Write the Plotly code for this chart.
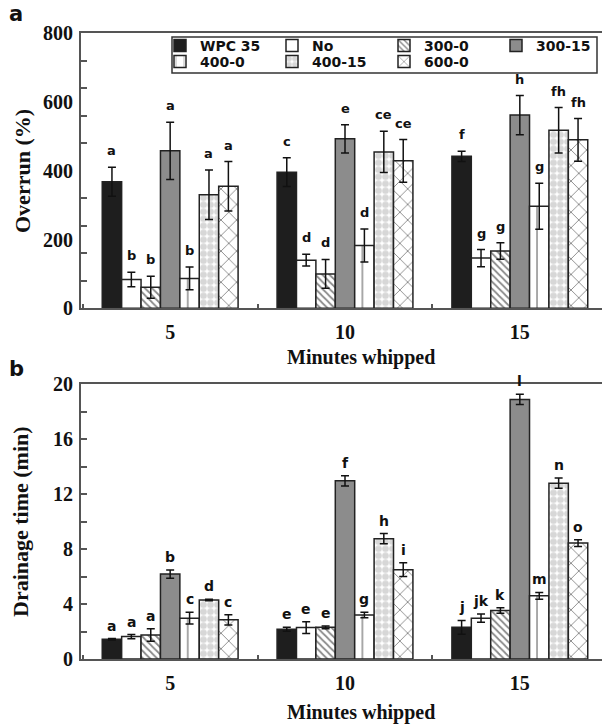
import plotly.graph_objects as go

W, H = 602, 727

# ---------------- data ----------------
minutes = ["5", "10", "15"]
series = ["WPC 35", "No", "300-0", "300-15", "400-0", "400-15", "600-0"]

# Overrun (%)
ovr_wpc35 = [368, 396, 442]
ovr_no = [84, 140, 146]
ovr_300_0 = [61, 100, 167]
ovr_300_15 = [458, 493, 562]
ovr_400_0 = [87, 183, 297]
ovr_400_15 = [330, 455, 518]
ovr_600_0 = [355, 429, 490]

ovr_err_wpc35 = [42, 42, 15]
ovr_err_no = [21, 17, 25]
ovr_err_300_0 = [32, 42, 24]
ovr_err_300_15 = [83, 41, 57]
ovr_err_400_0 = [33, 48, 67]
ovr_err_400_15 = [72, 60, 66]
ovr_err_600_0 = [72, 62, 62]

ovr_let_wpc35 = ["a", "c", "f"]
ovr_let_no = ["b", "d", "g"]
ovr_let_300_0 = ["b", "d", "g"]
ovr_let_300_15 = ["a", "e", "h"]
ovr_let_400_0 = ["b", "d", "g"]
ovr_let_400_15 = ["a", "ce", "fh"]
ovr_let_600_0 = ["a", "ce", "fh"]

# Drainage time (min)
drn_wpc35 = [1.44, 2.17, 2.31]
drn_no = [1.63, 2.29, 2.97]
drn_300_0 = [1.75, 2.31, 3.53]
drn_300_15 = [6.18, 12.97, 18.9]
drn_400_0 = [2.97, 3.21, 4.6]
drn_400_15 = [4.3, 8.76, 12.8]
drn_600_0 = [2.85, 6.5, 8.44]

drn_err_wpc35 = [0.05, 0.15, 0.5]
drn_err_no = [0.15, 0.43, 0.3]
drn_err_300_0 = [0.45, 0.1, 0.2]
drn_err_300_15 = [0.3, 0.37, 0.37]
drn_err_400_0 = [0.43, 0.2, 0.25]
drn_err_400_15 = [0.05, 0.37, 0.37]
drn_err_600_0 = [0.38, 0.5, 0.25]

drn_let_wpc35 = ["a", "e", "j"]
drn_let_no = ["a", "e", "jk"]
drn_let_300_0 = ["a", "e", "k"]
drn_let_300_15 = ["b", "f", "l"]
drn_let_400_0 = ["c", "g", "m"]
drn_let_400_15 = ["d", "h", "n"]
drn_let_600_0 = ["c", "i", "o"]

ovr_vals = [ovr_wpc35, ovr_no, ovr_300_0, ovr_300_15, ovr_400_0, ovr_400_15, ovr_600_0]
ovr_errs = [ovr_err_wpc35, ovr_err_no, ovr_err_300_0, ovr_err_300_15, ovr_err_400_0, ovr_err_400_15, ovr_err_600_0]
ovr_lets = [ovr_let_wpc35, ovr_let_no, ovr_let_300_0, ovr_let_300_15, ovr_let_400_0, ovr_let_400_15, ovr_let_600_0]
drn_vals = [drn_wpc35, drn_no, drn_300_0, drn_300_15, drn_400_0, drn_400_15, drn_600_0]
drn_errs = [drn_err_wpc35, drn_err_no, drn_err_300_0, drn_err_300_15, drn_err_400_0, drn_err_400_15, drn_err_600_0]
drn_lets = [drn_let_wpc35, drn_let_no, drn_let_300_0, drn_let_300_15, drn_let_400_0, drn_let_400_15, drn_let_600_0]

# ---------------- styles ----------------
BARGAP = 0.223
X_RANGE = [-0.51, 2.47]
X_LEFT_PX = 81
unit_px = (W - X_LEFT_PX) / (X_RANGE[1] - X_RANGE[0])
bar_px = unit_px * (1 - BARGAP) / len(series)   # one bar's pixel width

styles = [
    dict(color="#1e1e1e", pattern=None),
    dict(color="white", pattern=None),
    dict(color="white", pattern=dict(shape="\\", fgcolor="#111", bgcolor="white", size=5, solidity=0.35)),
    dict(color="#8c8c8c", pattern=None),
    dict(color="white", pattern=dict(shape="|", fgcolor="#222", bgcolor="white", size=bar_px, solidity=0.08)),
    dict(color="white", pattern=dict(shape=".", fgcolor="#b0b0b0", bgcolor="white", size=7, solidity=0.7)),
    dict(color="white", pattern=dict(shape="x", fgcolor="#111", bgcolor="white", size=11, solidity=0.16)),
]

serif_bold = dict(family="Liberation Serif, Times New Roman, serif", size=20, color="#111", weight="bold")
sans = "DejaVu Sans, Arial, sans-serif"
AX = "#555"

fig = go.Figure()

def add_panel(vals, errs, xa, ya, showleg):
    for i, name in enumerate(series):
        st = styles[i]
        marker = dict(color=st["color"], line=dict(color="#222", width=1.5))
        if st["pattern"]:
            marker["pattern"] = st["pattern"]
        fig.add_trace(go.Bar(
            x=minutes, y=vals[i], name=name, marker=marker,
            error_y=dict(type="data", array=errs[i], color="#111", thickness=1.5, width=4),
            xaxis=xa, yaxis=ya, showlegend=showleg,
            legend="legend" if i < 4 else "legend2",
        ))

add_panel(ovr_vals, ovr_errs, "x", "y", True)
add_panel(drn_vals, drn_errs, "x2", "y2", False)

# significance letters
gw = 1 - BARGAP
bw = gw / len(series)
annotations = []
for vals, errs, lets, xr, yr, shift, fs in [
    (ovr_vals, ovr_errs, ovr_lets, "x", "y", 7, 13),
    (drn_vals, drn_errs, drn_lets, "x2", "y2", 3, 14),
]:
    for i in range(len(series)):
        off = -gw / 2 + (i + 0.5) * bw
        for g in range(len(minutes)):
            annotations.append(dict(
                x=g + off, y=vals[i][g] + errs[i][g], xref=xr, yref=yr,
                text=lets[i][g], showarrow=False, xanchor="center", yanchor="bottom", yshift=shift,
                font=dict(family=sans, size=fs, color="#111", weight="bold"),
            ))

def py(p):
    return 1 - p / H

def px(p):
    return p / W

def paper_text(x, y, text, font, angle=0):
    return dict(x=px(x), y=py(y), xref="paper", yref="paper", text=text, textangle=angle,
                showarrow=False, xanchor="center", yanchor="middle", font=font)

annotations += [
    paper_text(16, 14, "a", dict(family=sans, size=21, color="#111", weight="bold")),
    paper_text(16, 369, "b", dict(family=sans, size=21, color="#111", weight="bold")),
    paper_text(22, 171, "Overrun (%)", dict(serif_bold, size=22), -90),
    paper_text(20, 522, "Drainage time (min)", dict(serif_bold, size=22), -90),
    paper_text(361, 357, "Minutes whipped", dict(serif_bold, size=20)),
    paper_text(361, 712, "Minutes whipped", dict(serif_bold, size=20)),
]

xdom = [X_LEFT_PX / W, 1.0]
xcommon = dict(domain=xdom, type="category", range=X_RANGE, showline=True, linecolor=AX,
               linewidth=2, mirror=True, ticks="inside", tickson="boundaries", ticklen=4,
               tickcolor=AX, tickwidth=1.5, tickfont=serif_bold, ticklabelstandoff=5,
               showgrid=False, zeroline=False, automargin=False)
ycommon = dict(showline=True, linecolor=AX, linewidth=2, tickfont=serif_bold,
               showgrid=False, zeroline=False, automargin=False, ticklabelstandoff=2)

legfont = dict(family=sans, size=14, color="#111", weight="bold")
leg = dict(orientation="h", xanchor="left", yanchor="middle", entrywidth=67,
           entrywidthmode="pixels", font=legfont, bgcolor="rgba(0,0,0,0)", borderwidth=0,
           itemwidth=30)

fig.update_layout(
    width=W, height=H, margin=dict(l=0, r=0, t=0, b=0, autoexpand=False),
    paper_bgcolor="white", plot_bgcolor="white",
    barmode="group", bargap=BARGAP, bargroupgap=0,
    xaxis=dict(xcommon, anchor="y"),
    xaxis2=dict(xcommon, anchor="y2"),
    yaxis=dict(ycommon, domain=[py(308.3), py(33.3)], anchor="x", range=[0, 800],
               tick0=0, dtick=200, ticks="",
               minor=dict(tick0=0, dtick=80, ticks="inside", ticklen=6, tickcolor=AX, tickwidth=1.5)),
    yaxis2=dict(ycommon, domain=[py(659), py(384.3)], anchor="x2", range=[0, 20],
                tick0=0, dtick=4, ticks="inside", ticklen=6, tickcolor=AX, tickwidth=1.5,
                minor=dict(tick0=0, dtick=2, ticks="inside", ticklen=6, tickcolor=AX, tickwidth=1.5)),
    legend=dict(leg, x=px(160), y=py(46)),
    legend2=dict(leg, x=px(160), y=py(62)),
    annotations=annotations,
    shapes=[dict(type="rect", xref="paper", yref="paper", x0=px(172), x1=px(597),
                 y0=py(73), y1=py(37), line=dict(color="#333", width=1.5))],
)

fig.write_html("out.html")
